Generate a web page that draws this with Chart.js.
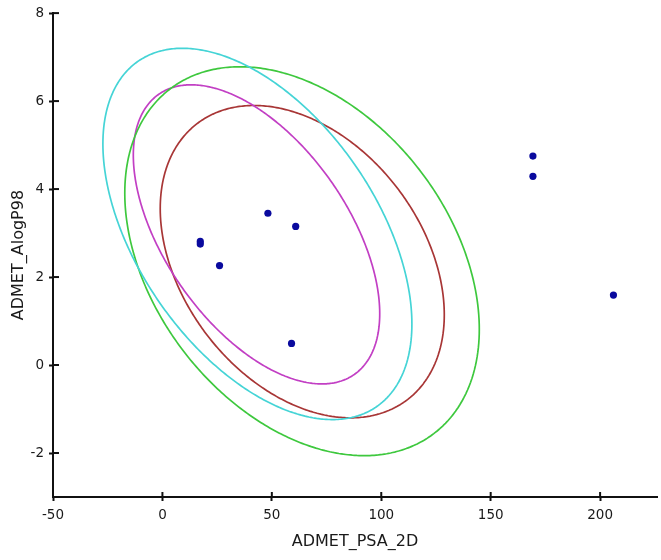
<!DOCTYPE html>
<html><head><meta charset="utf-8">
<script src="https://cdn.jsdelivr.net/npm/chart.js@4/dist/chart.umd.min.js"></script>
<style>html,body{margin:0;padding:0;background:#fff}#wrap{width:661px;height:560px;position:relative}</style>
</head><body><div id="wrap"><canvas id="c"></canvas></div>
<script>
// scatter data: ADMET_PSA_2D vs ADMET_AlogP98
const psa   = [17.3, 17.3, 26.1, 48.2, 60.9, 59.0, 169.3, 169.3, 206.1];
const alogp = [2.81, 2.75, 2.26, 3.45, 3.15, 0.49, 4.75, 4.29, 1.59];
const xTicks = [-50, 0, 50, 100, 150, 200];
const yTicks = [-2, 0, 2, 4, 6, 8];
const xTitle = 'ADMET_PSA_2D';
const yTitle = 'ADMET_AlogP98';
// confidence ellipses: centre, half-extent along x and y, correlation
const ellipseCx  = [43.4, 63.8, 43.0, 63.9];
const ellipseCy  = [2.98, 2.36, 2.97, 2.35];
const ellipseRx  = [70.6, 81.0, 56.3, 64.9];
const ellipseRy  = [4.22, 4.42, 3.40, 3.55];
const ellipseRho = [-0.485, -0.35, -0.53, -0.34];
const ellipseColors = ['#45d4d6', '#3ec83e', '#c23fc4', '#a83636'];

function ellipsePts(i) {
  const phi = Math.acos(ellipseRho[i]);
  const pts = [];
  for (let k = 0; k <= 240; k++) {
    const t = k / 240 * 2 * Math.PI;
    pts.push({x: ellipseCx[i] + ellipseRx[i] * Math.cos(t),
              y: ellipseCy[i] + ellipseRy[i] * Math.cos(t - phi)});
  }
  return pts;
}

const datasets = [{
  label: 'compounds',
  data: psa.map((x, i) => ({x, y: alogp[i]})),
  pointRadius: 3.6, pointBackgroundColor: '#0a0a9e', pointBorderWidth: 0,
  showLine: false, order: 0
}];
ellipseCx.forEach((_, i) => datasets.push({
  label: 'ellipse' + i, data: ellipsePts(i), showLine: true, fill: false,
  pointRadius: 0, borderColor: ellipseColors[i], borderWidth: 1.7, tension: 0.05, order: 1 + i
}));

const innerTicks = {
  id: 'innerTicks',
  afterDraw(chart) {
    const ctx = chart.ctx, xs = chart.scales.x, ys = chart.scales.y;
    ctx.save(); ctx.strokeStyle = '#111'; ctx.lineWidth = 2;
    xTicks.forEach(v => { const p = xs.getPixelForValue(v);
      ctx.beginPath(); ctx.moveTo(p, ys.bottom); ctx.lineTo(p, ys.bottom - 5); ctx.stroke(); });
    yTicks.forEach(v => { const p = ys.getPixelForValue(v);
      ctx.beginPath(); ctx.moveTo(xs.left, p); ctx.lineTo(xs.left + 6, p); ctx.stroke(); });
    ctx.restore();
  }
};

const font = {family: "'DejaVu Sans', Verdana, sans-serif", size: 13.5};
new Chart(document.getElementById('c'), {
  type: 'scatter',
  data: {datasets},
  plugins: [innerTicks],
  options: {
    responsive: true, maintainAspectRatio: false, animation: false,
    layout: {padding: {top: 12, right: 0, left: 0, bottom: 0}},
    plugins: {legend: {display: false}, tooltip: {enabled: false}},
    scales: {
      x: {
        type: 'linear', min: -50, max: 226,
        afterBuildTicks: s => { s.ticks = xTicks.map(v => ({value: v})); },
        afterFit: s => { s.height = 63; },
        ticks: {color: '#1a1a1a', font, padding: 6, maxRotation: 0},
        grid: {drawOnChartArea: false, drawTicks: true, tickLength: 4, color: '#111', tickWidth: 2},
        border: {color: '#111', width: 2},
        title: {display: true, text: xTitle, color: '#1a1a1a',
                font: {family: "'DejaVu Sans', Verdana, sans-serif", size: 16}, padding: {top: 0, bottom: 9}}
      },
      y: {
        type: 'linear', min: -3, max: 8,
        afterBuildTicks: s => { s.ticks = yTicks.map(v => ({value: v})); },
        afterFit: s => { s.width = 53; },
        ticks: {color: '#1a1a1a', font, padding: 5},
        grid: {drawOnChartArea: false, drawTicks: true, tickLength: 4, color: '#111', tickWidth: 2},
        border: {color: '#111', width: 2},
        title: {display: true, text: yTitle, color: '#1a1a1a',
                font: {family: "'DejaVu Sans', Verdana, sans-serif", size: 16}, padding: {top: 9, bottom: 0}}
      }
    }
  }
});
</script>
</body></html>
